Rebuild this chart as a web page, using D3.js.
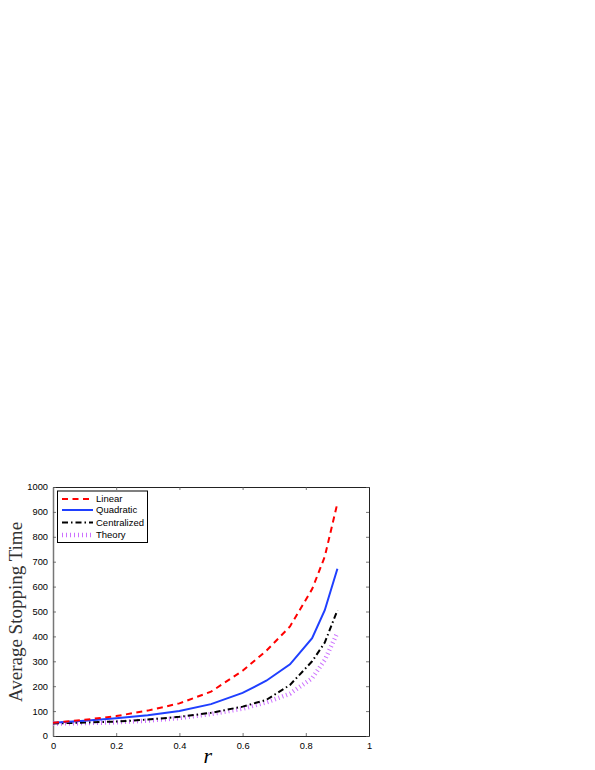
<!DOCTYPE html>
<html>
<head>
<meta charset="utf-8">
<script src="https://cdn.jsdelivr.net/npm/d3@7"></script>
<style>
  body { margin: 0; background: #fff; }
  svg text { font-family: "Liberation Sans", Arial, sans-serif; }
</style>
</head>
<body>
<div id="chart"></div>
<script>
// values
var rValues     = [0, 0.1, 0.2, 0.3, 0.4, 0.5, 0.6, 0.675, 0.75, 0.82, 0.86, 0.9];
var linear      = [53, 65, 80, 102, 131, 178, 262, 342, 440, 590, 720, 935];
var quadratic   = [53, 61, 71, 83, 100, 128, 173, 222, 288, 393, 505, 672];
var centralized = [50, 54, 58, 66, 77, 93, 118, 145, 205, 300, 375, 505];
var theory      = [50, 52, 55, 62, 72, 88, 110, 135, 170, 232, 305, 415];
var seriesNames = ["Linear", "Quadratic", "Centralized", "Theory"];
var xTicks = [0, 0.2, 0.4, 0.6, 0.8, 1];
var yTicks = [0, 100, 200, 300, 400, 500, 600, 700, 800, 900, 1000];

var config = {
    width: 595,
    height: 770,
    left: 53,
    right: 369,
    top: 487,
    bottom: 736
};

var styles = [
    { color: "#ff0000", width: 2, dash: "6,4.5" },
    { color: "#1f3fff", width: 2, dash: null },
    { color: "#000000", width: 2, dash: "6,3,1.5,3" },
    { color: "#cc70ff", width: 4.5, dash: "1,3" }
];

var svg = d3.select("#chart").append("svg")
    .attr("width", config.width)
    .attr("height", config.height);

var x = d3.scaleLinear().domain([0, 1]).range([config.left, config.right]);
var y = d3.scaleLinear().domain([0, 1000]).range([config.bottom, config.top]);

var plain = d3.format("");

// axes box with inward ticks (matlab style)
var gx = svg.append("g")
    .attr("transform", "translate(0," + config.bottom + ")")
    .call(d3.axisBottom(x).tickValues(xTicks).tickSizeInner(-3).tickSizeOuter(0)
        .tickPadding(6).tickFormat(plain));
var gxTop = svg.append("g")
    .attr("transform", "translate(0," + config.top + ")")
    .call(d3.axisTop(x).tickValues(xTicks).tickSizeInner(-3).tickSizeOuter(0).tickFormat(""));
var gy = svg.append("g")
    .attr("transform", "translate(" + config.left + ",0)")
    .call(d3.axisLeft(y).tickValues(yTicks).tickSizeInner(-3).tickSizeOuter(0)
        .tickPadding(5).tickFormat(plain));
var gyRight = svg.append("g")
    .attr("transform", "translate(" + config.right + ",0)")
    .call(d3.axisRight(y).tickValues(yTicks).tickSizeInner(-3).tickSizeOuter(0).tickFormat(""));

[gx, gxTop, gy, gyRight].forEach(function(g) {
    g.select(".domain").attr("stroke", "#222").attr("stroke-width", 1);
    g.selectAll(".tick line").attr("stroke", "#555").attr("stroke-width", 0.8);
    g.selectAll(".tick text").attr("font-size", 9.3).attr("fill", "#000")
        .style("font-family", "'Liberation Sans', Arial, sans-serif");
});
gy.select(".domain").attr("stroke", "#777").attr("stroke-width", 1.5);

// curves
var allSeries = [linear, quadratic, centralized, theory];
var line = d3.line()
    .x(function(d) { return x(d[0]); })
    .y(function(d) { return y(d[1]); });

var plotOrder = [3, 2, 1, 0];
plotOrder.forEach(function(k) {
    var pts = rValues.map(function(r, i) { return [r, allSeries[k][i]]; });
    svg.append("path")
        .datum(pts)
        .attr("fill", "none")
        .attr("stroke", styles[k].color)
        .attr("stroke-width", styles[k].width)
        .attr("stroke-dasharray", styles[k].dash)
        .attr("d", line);
});

// legend
var legend = svg.append("g");
legend.append("rect")
    .attr("x", 57.5).attr("y", 491)
    .attr("width", 90).attr("height", 51.5)
    .attr("fill", "#fff").attr("stroke", "#000").attr("stroke-width", 1);

var rowY = [499, 510, 522.5, 535];
seriesNames.forEach(function(name, k) {
    legend.append("line")
        .attr("x1", 62).attr("x2", 93)
        .attr("y1", rowY[k]).attr("y2", rowY[k])
        .attr("stroke", styles[k].color)
        .attr("stroke-width", styles[k].width)
        .attr("stroke-dasharray", styles[k].dash);
    legend.append("text")
        .attr("x", 96).attr("y", rowY[k] + 3.3)
        .attr("font-size", 9.5)
        .text(name);
});

// axis titles
svg.append("text")
    .attr("transform", "translate(22,612) rotate(-90)")
    .attr("text-anchor", "middle")
    .style("font-family", "'Liberation Serif', 'DejaVu Serif', serif")
    .attr("font-size", 19)
    .attr("fill", "#333")
    .text("Average Stopping Time");

svg.append("text")
    .attr("x", x(0.49)).attr("y", 763)
    .attr("text-anchor", "middle")
    .style("font-family", "'Liberation Serif', 'DejaVu Serif', serif")
    .style("font-style", "italic")
    .attr("font-size", 22)
    .text("r");
</script>
</body>
</html>
